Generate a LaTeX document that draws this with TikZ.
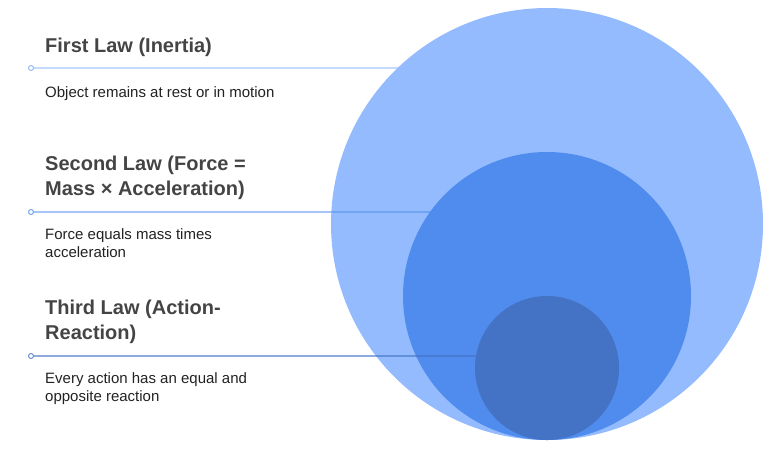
\documentclass[tikz,border=0pt]{standalone}
\usepackage{fontspec}
\setmainfont{Liberation Sans}
\definecolor{outerblue}{HTML}{94BBFE}
\definecolor{middleblue}{HTML}{4F8CEE}
\definecolor{innerblue}{HTML}{4472C4}
\definecolor{titlegray}{HTML}{444444}
\definecolor{textgray}{HTML}{222222}
\tikzset{
  lawtitle/.style={anchor=base west, inner sep=0, align=left, text=titlegray,
    font=\fontsize{20}{24.5}\selectfont\bfseries},
  lawtext/.style={anchor=base west, inner sep=0, align=left, text=textgray,
    font=\fontsize{15}{18}\selectfont},
  ring/.style={circle, inner sep=0, outer sep=0, draw=none},
  knot/.style={circle, draw=#1, fill=white, line width=1pt, inner sep=0, minimum size=5pt},
  leader/.style={line width=2pt, draw=#1}
}

\begin{document}
\begin{tikzpicture}[x=1pt, y=-1pt]
\useasboundingbox (0,0) rectangle (773,448);

% nested circles
\node[ring, fill=outerblue, minimum size=432pt] (big) at (547,224) {};
\node[ring, fill=middleblue, minimum size=288pt] (mid) at (547,296) {};
\node[ring, fill=innerblue, minimum size=144pt] (small) at (547,368) {};

% left labels (base = last line)
\node[lawtitle] (t1) at (45,52) {First Law (Inertia)};
\node[lawtext] (d1) at (45,97) {Object remains at rest or in motion};

\node[lawtitle] (t2) at (45,195) {Second Law (Force =\\Mass × Acceleration)};
\node[lawtext] (d2) at (45,257) {Force equals mass times\\acceleration};

\node[lawtitle] (t3) at (45,339) {Third Law (Action-\\Reaction)};
\node[lawtext] (d3) at (45,401) {Every action has an equal and\\opposite reaction};

% leader lines
\node[knot=middleblue!60] (k1) at (31,68) {};
\node[knot=middleblue!80] (k2) at (31,212) {};
\node[knot=innerblue!80] (k3) at (31,356) {};

\path[leader=outerblue, draw opacity=0.55] (k1) -- (k1 -| big.133.76);
\path[leader=middleblue, draw opacity=0.5] (k2) -- (k2 -| mid.144.32);
\path[leader=innerblue, draw opacity=0.6] (k3) -- (k3 -| small.170.41);
\end{tikzpicture}
\end{document}
